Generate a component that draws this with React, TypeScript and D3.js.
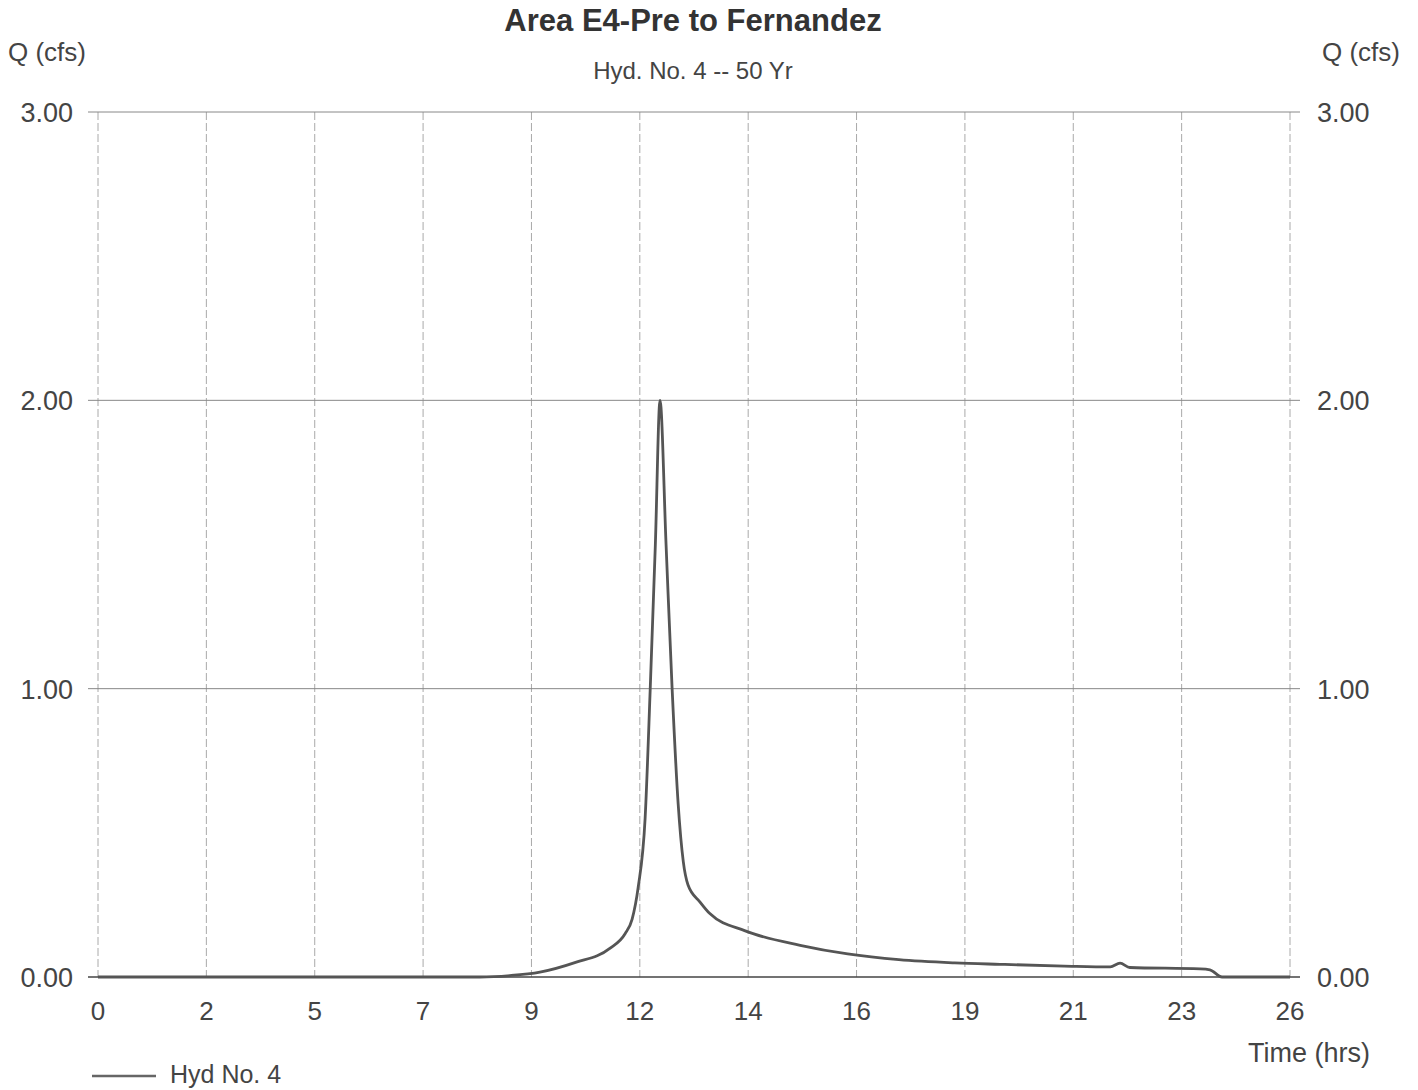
import React from "react";
import * as d3 from "d3";

// hydrograph (hours, cfs)
const hours = [
  0, 2, 4, 6, 8.2, 8.85, 9.49, 10.24, 11.0, 11.32, 11.47, 11.6, 11.75, 11.86,
  11.97, 12.07, 12.2, 12.33, 12.46, 12.57, 12.67, 12.93, 13.14, 13.9, 15.08,
  16.1, 17.2, 18.4, 19.37, 20.75, 21.74, 21.95, 22.16, 23.67, 23.88, 24.14, 25.6,
];
const flows = [
  0, 0, 0, 0, 0, 0.005, 0.017, 0.05, 0.1, 0.15, 0.2, 0.31, 0.55, 1.0, 1.5,
  2.0, 1.5, 1.0, 0.6, 0.4, 0.32, 0.26, 0.22, 0.16, 0.11, 0.08, 0.06, 0.049,
  0.044, 0.038, 0.035, 0.048, 0.033, 0.028, 0.025, 0, 0,
];
const xTickLabels = ["0", "2", "5", "7", "9", "12", "14", "16", "19", "21", "23", "26"];
const yTicks = [0, 1, 2, 3];
const xMax = 25.6;

const W = 1418,
  H = 1090;
const left = 98,
  right = 1290,
  top = 112,
  bottom = 977;
const font = "'Liberation Sans', Arial, sans-serif";
const txt = "#444";

const App = () => {
  const x = d3.scaleLinear().domain([0, xMax]).range([left, right]);
  const y = d3.scaleLinear().domain([0, 3]).range([bottom, top]);
  const xTicks = xTickLabels.map((_, i) => (i * xMax) / (xTickLabels.length - 1));

  const line = d3
    .line<number>()
    .x((_, i) => x(hours[i]))
    .y((d) => y(d))
    .curve(d3.curveMonotoneX);

  return (
    <svg
      width={W}
      height={H}
      style={{ position: "absolute", left: 0, top: 0, background: "#fff" }}
      fontFamily={font}
    >
      <text x={693} y={31} textAnchor="middle" fontSize={31} fontWeight="bold" fill="#333">
        Area E4-Pre to Fernandez
      </text>
      <text x={693} y={79} textAnchor="middle" fontSize={24} fill={txt}>
        Hyd. No. 4 -- 50 Yr
      </text>
      <text x={8} y={61} fontSize={26} fill={txt}>
        Q (cfs)
      </text>
      <text x={1400} y={61} textAnchor="end" fontSize={26} fill={txt}>
        Q (cfs)
      </text>

      {xTicks.map((t, i) => (
        <g key={"x" + i}>
          <line
            x1={x(t)}
            x2={x(t)}
            y1={top}
            y2={bottom}
            stroke="#aaa"
            strokeWidth={1}
            strokeDasharray="8,3"
          />
          <text x={x(t)} y={1020} textAnchor="middle" fontSize={26} fill={txt}>
            {xTickLabels[i]}
          </text>
        </g>
      ))}

      {yTicks.map((t) => (
        <g key={"y" + t}>
          <line
            x1={88}
            x2={1300}
            y1={y(t)}
            y2={y(t)}
            stroke={t === 0 ? "#444" : "#888"}
            strokeWidth={t === 0 ? 1.3 : 1}
          />
          <text x={73} y={y(t) + 10} textAnchor="end" fontSize={27} fill={txt}>
            {d3.format(".2f")(t)}
          </text>
          <text x={1317} y={y(t) + 10} fontSize={27} fill={txt}>
            {d3.format(".2f")(t)}
          </text>
        </g>
      ))}

      <path d={line(flows) || ""} fill="none" stroke="#555" strokeWidth={2.8} strokeLinejoin="round" />

      <text x={1370} y={1062} textAnchor="end" fontSize={27} fill={txt}>
        Time (hrs)
      </text>
      <line x1={92} x2={156} y1={1076} y2={1076} stroke="#666" strokeWidth={2.5} />
      <text x={170} y={1083} fontSize={25} fill={txt}>
        Hyd No. 4
      </text>
    </svg>
  );
};

export default App;
